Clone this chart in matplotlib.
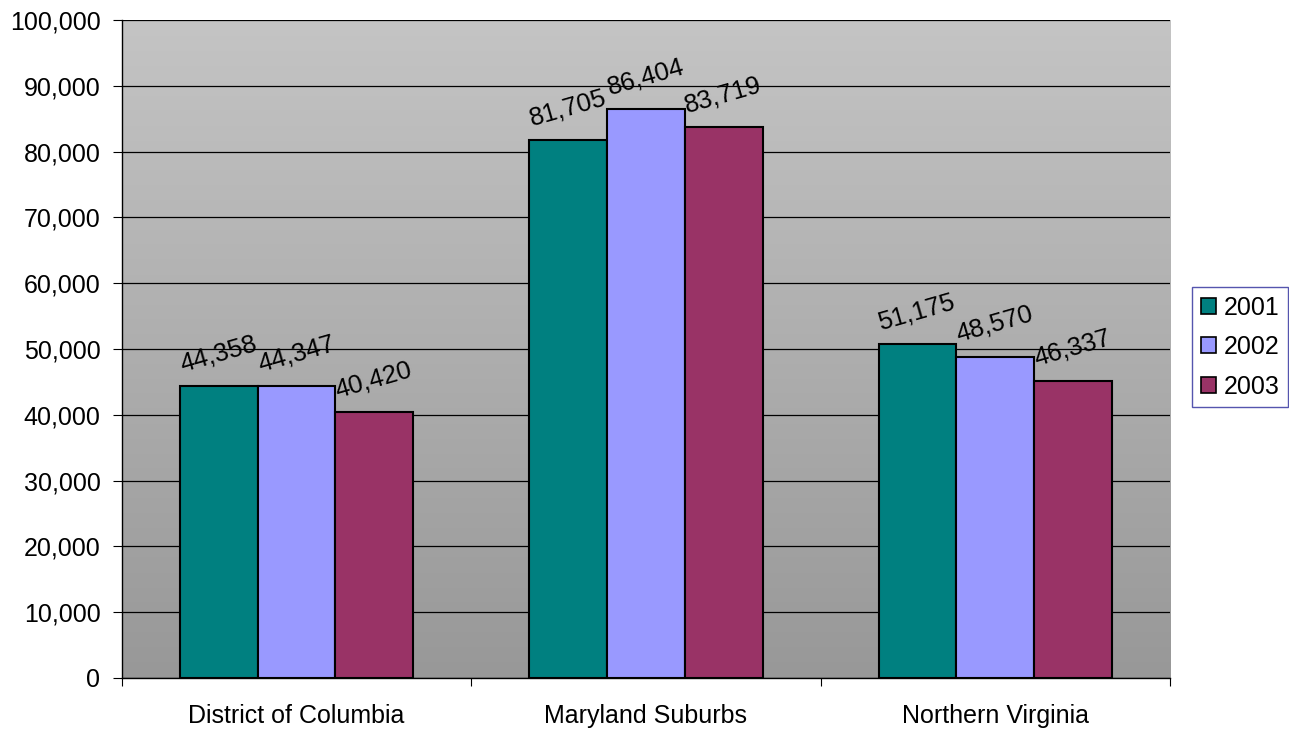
import matplotlib
matplotlib.use("Agg")
import matplotlib.pyplot as plt
import numpy as np
from matplotlib.patches import Patch

plt.rcParams["font.family"] = ["Liberation Sans", "DejaVu Sans"]

regions = ["District of Columbia", "Maryland Suburbs", "Northern Virginia"]
years = ["2001", "2002", "2003"]
# bar heights as drawn, and the data labels printed above them
heights_2001 = [44358, 81705, 50700]
heights_2002 = [44347, 86404, 48800]
heights_2003 = [40420, 83719, 45200]
labels_2001 = ["44,358", "81,705", "51,175"]
labels_2002 = ["44,347", "86,404", "48,570"]
labels_2003 = ["40,420", "83,719", "46,337"]
colors = ["#008080", "#9999FF", "#993366"]

fig = plt.figure(figsize=(12.89, 7.29), dpi=100)
ax = fig.add_axes([0.0946, 0.070, 0.8131, 0.9026])

# gray gradient background of the plot area
gradient = np.linspace(0, 1, 256).reshape(-1, 1)
ax.imshow(gradient, extent=[0, 3, 0, 100000], aspect="auto", zorder=0,
          cmap=matplotlib.colors.LinearSegmentedColormap.from_list("bg", ["#989898", "#C4C4C4"]),
          origin="lower")

all_heights = [heights_2001, heights_2002, heights_2003]
all_labels = [labels_2001, labels_2002, labels_2003]
bar_width = 0.2225
centers = np.arange(len(regions)) + 0.5
for i, (year, heights, texts) in enumerate(zip(years, all_heights, all_labels)):
    xs = centers + (i - 1) * bar_width
    ax.bar(xs, heights, width=bar_width, color=colors[i], edgecolor="black",
           linewidth=1.5, zorder=3)
    for x, h, t in zip(xs, heights, texts):
        ax.annotate(t, (x, h), xytext=(2, 15), textcoords="offset points",
                    rotation=16, rotation_mode="anchor", ha="center", va="bottom",
                    fontsize=18.5, zorder=4)

ax.set_xlim(0, 3)
ax.set_ylim(0, 100000)
ax.set_yticks(np.arange(0, 100001, 10000))
ax.set_yticklabels([f"{v:,}" for v in range(0, 100001, 10000)], fontsize=18)
ax.yaxis.grid(True, color="black", linewidth=0.9, zorder=1)
ax.set_axisbelow(True)
ax.set_xticks([0, 1, 2, 3])
ax.set_xticklabels([])
ax.set_xticks(centers, minor=True)
ax.set_xticklabels(regions, minor=True, fontsize=18)
ax.tick_params(axis="x", which="minor", length=0, pad=19)
ax.tick_params(axis="x", which="major", length=6, color="black")
ax.tick_params(axis="y", length=6.5, pad=9)
for side in ["top", "right"]:
    ax.spines[side].set_visible(False)
for side in ["left", "bottom"]:
    ax.spines[side].set_color("black")
    ax.spines[side].set_linewidth(1)

handles = [Patch(facecolor=c, edgecolor="black", linewidth=1.2) for c in colors]
leg = fig.legend(handles, years, loc="center", bbox_to_anchor=(0.9620, 0.524),
                 fontsize=18, frameon=True, fancybox=False, handlelength=0.6,
                 handleheight=0.6, handletextpad=0.3, labelspacing=0.62,
                 borderpad=0.35, borderaxespad=0)
leg.get_frame().set_edgecolor("#2A2A9A")
leg.get_frame().set_linewidth(1)

fig.savefig("out.png", dpi=100)
